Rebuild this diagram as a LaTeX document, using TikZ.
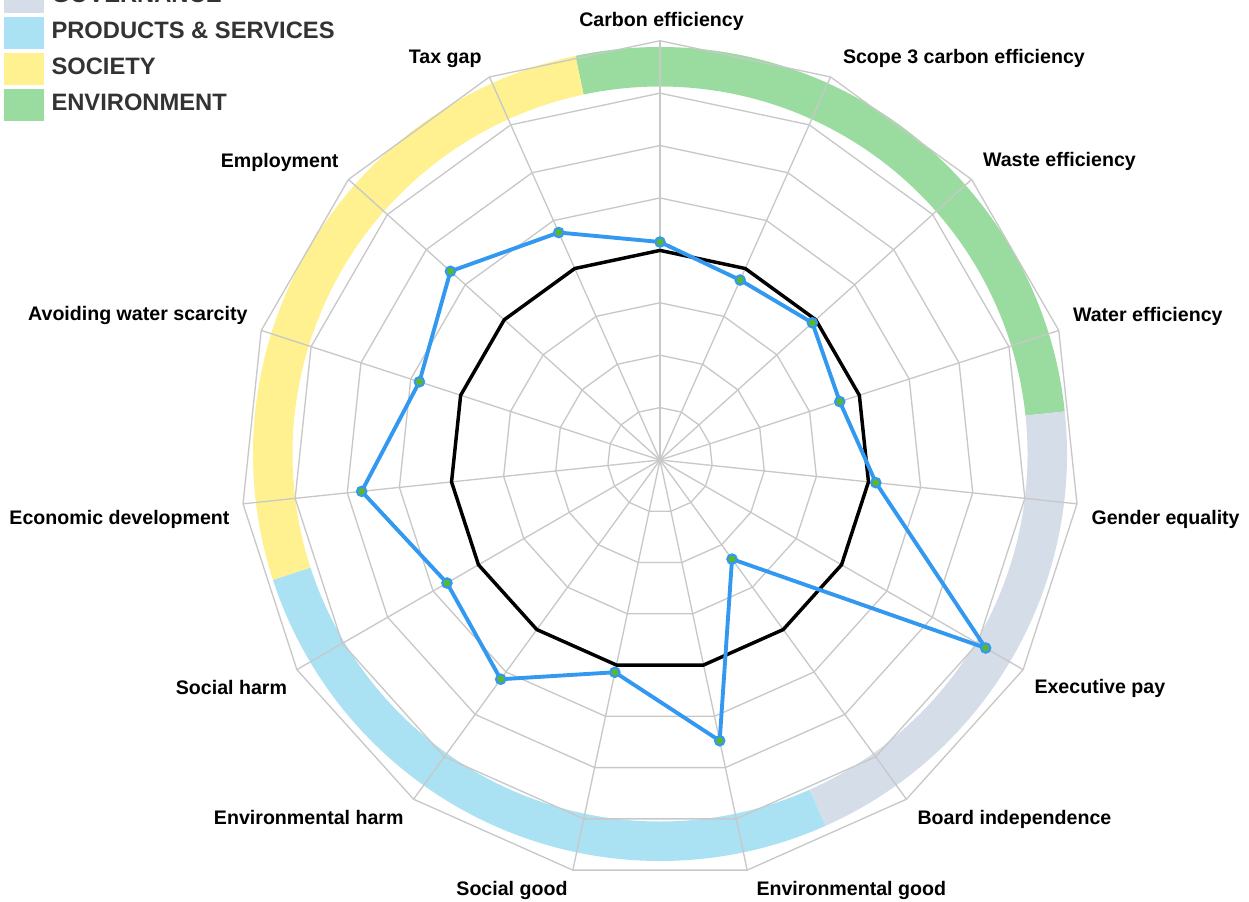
\documentclass[tikz,border=0pt]{standalone}
\usepackage{fontspec}
\setmainfont{Liberation Sans}
\tikzset{every picture/.style={line width=0.75pt}}
\definecolor{envgreen}{RGB}{154,220,160}
\definecolor{govgray}{RGB}{213,222,232}
\definecolor{prodblue}{RGB}{171,226,243}
\definecolor{socyellow}{RGB}{255,241,143}
\definecolor{gridgray}{RGB}{200,200,200}
\definecolor{scoreblue}{RGB}{51,153,240}
\definecolor{dotgreen}{RGB}{92,184,40}
\definecolor{legendgray}{RGB}{51,51,51}
\tikzset{
  gridline/.style={draw=gridgray, line width=1pt},
  benchline/.style={draw=black, line width=2.6pt},
  scoreline/.style={draw=scoreblue, line width=2.9pt},
  scoredot/.style={draw=scoreblue, fill=dotgreen, line width=1.6pt},
  axislabel/.style={inner sep=0pt, font=\bfseries\fontsize{14.7}{17}\selectfont},
  legendtext/.style={inner sep=0pt, anchor=west, text=legendgray, font=\bfseries\fontsize{17.8}{20}\selectfont}
}

\begin{document}
\begin{tikzpicture}[x=0.75pt,y=0.75pt,yscale=-1,xscale=1]
\useasboundingbox (0,0) rectangle (1249,902);
\clip (0,0) rectangle (1249,902);
\coordinate (o) at (660,460);
\coordinate (bc) at (660,454);

%Shape: Arc [Environment]
\fill[envgreen] ([shift={(-102:407)}]bc) arc[start angle=-102, end angle=-6, radius=407] -- ([shift={(-6:367.5)}]bc) arc[start angle=-6, end angle=-102, radius=367.5] -- cycle;
%Shape: Arc [Governance]
\fill[govgray] ([shift={(-6:407)}]bc) arc[start angle=-6, end angle=66, radius=407] -- ([shift={(66:367.5)}]bc) arc[start angle=66, end angle=-6, radius=367.5] -- cycle;
%Shape: Arc [Products & services]
\fill[prodblue] ([shift={(66:407)}]bc) arc[start angle=66, end angle=162, radius=407] -- ([shift={(162:367.5)}]bc) arc[start angle=162, end angle=66, radius=367.5] -- cycle;
%Shape: Arc [Society]
\fill[socyellow] ([shift={(162:407)}]bc) arc[start angle=162, end angle=258, radius=407] -- ([shift={(258:367.5)}]bc) arc[start angle=258, end angle=162, radius=367.5] -- cycle;

%Shape: Polygon rings
\foreach \k in {1,...,8}
  \draw[gridline] ([shift={(-90:\k*52.41)}]o) \foreach \i in {1,...,14}{ -- ([shift={(-90+24*\i:\k*52.41)}]o) } -- cycle;
%Straight Lines [spokes]
\foreach \i in {0,...,14}{
  \coordinate (v\i) at ([shift={(-90+24*\i:419.3)}]o);
  \draw[gridline] (o) -- (v\i);
}

%Shape: Polygon [benchmark]
\draw[benchline] ([shift={(-90:209.6)}]o) \foreach \i in {1,...,14}{ -- ([shift={(-90+24*\i:209.6)}]o) } -- cycle;

%Shape: Polygon [scores]
\foreach \v [count=\i from 0] in {218,197,205,189,217,376,122.5,287,217,271,246,300,253,282,249}
  \coordinate (p\i) at ([shift={(-90+24*\i:\v)}]o);
\draw[scoreline] (p0) \foreach \i in {1,...,14}{ -- (p\i) } -- cycle;
\foreach \i in {0,...,14}
  \draw[scoredot] (p\i) circle (4.7);

% Text Node
\draw (661.5,26.7) node (lcarbon) [axislabel, anchor=base] {Carbon efficiency};
% Text Node
\draw (842.5,63.3) node (lscope) [axislabel, anchor=base west] {Scope 3 carbon efficiency};
% Text Node
\draw (982.5,166.7) node (lwaste) [axislabel, anchor=base west] {Waste efficiency};
% Text Node
\draw (1072.5,321.7) node (lwater) [axislabel, anchor=base west] {Water efficiency};
% Text Node
\draw (1091,524) node (lgender) [axislabel, anchor=base west] {Gender equality};
% Text Node
\draw (1034,693) node (lexec) [axislabel, anchor=base west] {Executive pay};
% Text Node
\draw (917,824) node (lboard) [axislabel, anchor=base west] {Board independence};
% Text Node
\draw (756,895) node (lenvgood) [axislabel, anchor=base west] {Environmental good};
% Text Node
\draw (568,895) node (lsocgood) [axislabel, anchor=base east] {Social good};
% Text Node
\draw (404,824) node (lenvharm) [axislabel, anchor=base east] {Environmental harm};
% Text Node
\draw (287.5,694) node (lsocharm) [axislabel, anchor=base east] {Social harm};
% Text Node
\draw (230,524) node (lecon) [axislabel, anchor=base east] {Economic development};
% Text Node
\draw (248,320.7) node (lavoid) [axislabel, anchor=base east] {Avoiding water scarcity};
% Text Node
\draw (339,167.3) node (lemploy) [axislabel, anchor=base east] {Employment};
% Text Node
\draw (482,63.3) node (ltax) [axislabel, anchor=base east] {Tax gap};

%Shape: Legend keys
\fill[govgray] (4,-19.3) rectangle (44,12.7);
\fill[prodblue] (4,16.7) rectangle (44,48.7);
\fill[socyellow] (4,52.7) rectangle (44,84.7);
\fill[envgreen] (4,88.7) rectangle (44,120.7);
% Text Node
\draw (51,-5.5) node (tgov) [legendtext] {GOVERNANCE};
% Text Node
\draw (51,30.5) node (tprod) [legendtext] {PRODUCTS \& SERVICES};
% Text Node
\draw (51,66.5) node (tsoc) [legendtext] {SOCIETY};
% Text Node
\draw (51,102.5) node (tenv) [legendtext] {ENVIRONMENT};

\end{tikzpicture}
\end{document}
